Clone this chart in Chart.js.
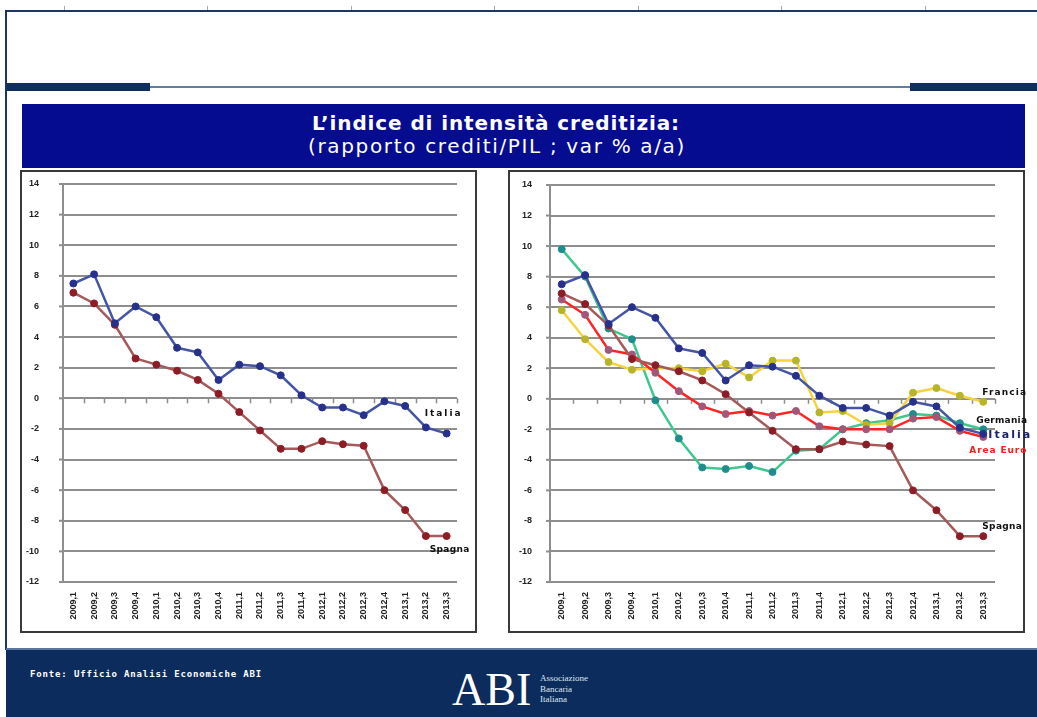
<!DOCTYPE html>
<html>
<head>
<meta charset="utf-8">
<script src="https://cdn.jsdelivr.net/npm/chart.js@4.4.1/dist/chart.umd.min.js"></script>
<style>
html,body{margin:0;padding:0;background:#fff;}
#slide{position:relative;width:1037px;height:717px;overflow:hidden;background:#fff;font-family:"DejaVu Sans",sans-serif;}
.abs{position:absolute;}
.fit{display:inline-block;white-space:nowrap;}
</style>
</head>
<body>
<div id="slide">
  <!-- slide frame -->
  <div class="abs" style="left:5px;top:10px;width:1032px;height:2px;background:#1d3563"></div>
  <div class="abs" style="left:5px;top:10px;width:2px;height:640px;background:#1d3563"></div>
  <div class="abs" style="left:64px;top:6px;width:1px;height:4px;background:#9aa6bb"></div>
  <div class="abs" style="left:207px;top:6px;width:1px;height:4px;background:#9aa6bb"></div>
  <div class="abs" style="left:351px;top:6px;width:1px;height:4px;background:#9aa6bb"></div>
  <div class="abs" style="left:494px;top:6px;width:1px;height:4px;background:#9aa6bb"></div>
  <div class="abs" style="left:638px;top:6px;width:1px;height:4px;background:#9aa6bb"></div>
  <div class="abs" style="left:781px;top:6px;width:1px;height:4px;background:#9aa6bb"></div>
  <div class="abs" style="left:925px;top:6px;width:1px;height:4px;background:#9aa6bb"></div>

  <!-- header rule -->
  <div class="abs" style="left:7px;top:83px;width:143px;height:8px;background:#0f2f5f"></div>
  <div class="abs" style="left:150px;top:86px;width:760px;height:2px;background:#5f7ea6"></div>
  <div class="abs" style="left:910px;top:83px;width:127px;height:8px;background:#0f2f5f"></div>

  <!-- title band -->
  <div class="abs" style="left:22px;top:104px;width:1003px;height:64px;background:#050c8f"></div>
  <div class="abs" style="left:0;top:113px;width:992px;text-align:center;line-height:20px;color:#fff;">
    <span id="t1" class="fit" style="font-weight:bold;font-size:20px;">L’indice di intensità creditizia:</span>
  </div>
  <div class="abs" style="left:0;top:136px;width:994px;text-align:center;line-height:20px;color:#fff;">
    <span id="t2" class="fit" style="font-size:20px;">(rapporto crediti/PIL ; var % a/a)</span>
  </div>

  <!-- chart frames -->
  <div class="abs" style="left:20px;top:170px;width:453px;height:459px;border:2px solid #3a3a3a;"></div>
  <div class="abs" style="left:508px;top:170px;width:513px;height:459px;border:2px solid #3a3a3a;"></div>

  <canvas id="c1" class="abs" style="left:22px;top:172px;" width="455" height="461"></canvas>
  <canvas id="c2" class="abs" style="left:510px;top:172px;" width="522" height="461"></canvas>

  <!-- footer -->
  <div class="abs" style="left:6px;top:648px;width:1031px;height:69px;background:#0b2c5c;border-top:2px solid #5b77a0"></div>
  <div class="abs" style="left:30px;top:667px;color:#fff;line-height:10px;">
    <span id="src" class="fit" style="font-family:'DejaVu Sans Mono',monospace;font-weight:bold;font-size:9px;">Fonte: Ufficio Analisi Economiche ABI</span>
  </div>
  <div class="abs" style="left:452px;top:667px;color:#fff;font-family:'Liberation Serif',serif;font-size:46px;line-height:46px;">ABI</div>
  <div class="abs" style="left:540px;top:673px;color:#dfe6f0;font-family:'Liberation Serif',serif;font-size:9px;line-height:10.5px;">Associazione<br>Bancaria<br>Italiana</div>
</div>

<script>
// ---------- data ----------
const categories = ['2009,1','2009,2','2009,3','2009,4','2010,1','2010,2','2010,3','2010,4',
                    '2011,1','2011,2','2011,3','2011,4','2012,1','2012,2','2012,3','2012,4',
                    '2013,1','2013,2','2013,3'];
const italia   = [7.5, 8.1, 4.9, 6.0, 5.3, 3.3, 3.0, 1.2, 2.2, 2.1, 1.5, 0.2, -0.6, -0.6, -1.1, -0.2, -0.5, -1.9, -2.3];
const spagna   = [6.9, 6.2, 4.8, 2.6, 2.2, 1.8, 1.2, 0.3, -0.9, -2.1, -3.3, -3.3, -2.8, -3.0, -3.1, -6.0, -7.3, -9.0, -9.0];
const francia  = [5.8, 3.9, 2.4, 1.9, 2.0, 2.0, 1.8, 2.3, 1.4, 2.5, 2.5, -0.9, -0.8, -1.7, -1.6, 0.4, 0.7, 0.2, -0.2];
const germania = [9.8, 8.0, 4.6, 3.9, -0.1, -2.6, -4.5, -4.6, -4.4, -4.8, -3.4, -3.3, -2.0, -1.6, -1.4, -1.0, -1.1, -1.6, -2.0];
const areaEuro = [6.5, 5.5, 3.2, 2.9, 1.7, 0.5, -0.5, -1.0, -0.8, -1.1, -0.8, -1.8, -2.0, -2.0, -2.0, -1.3, -1.2, -2.1, -2.5];
const yMin = -12, yMax = 14, yStep = 2;

// ---------- text fitting ----------
function fitWidth(id, target){
  const el = document.getElementById(id);
  el.style.letterSpacing = '0px';
  const w = el.getBoundingClientRect().width;
  el.style.letterSpacing = ((target - w) / el.textContent.length) + 'px';
}
fitWidth('t1', 368);
fitWidth('t2', 378);
fitWidth('src', 232);

// ---------- plugins ----------
const axisTicks = {
  id: 'axisTicks',
  beforeDatasetsDraw(chart){
    const xs = chart.scales.x, ys = chart.scales.y, ctx = chart.ctx;
    const y0 = ys.getPixelForValue(0);
    const half = (xs.getPixelForValue(1) - xs.getPixelForValue(0)) / 2;
    const left = chart.chartArea.left;
    ctx.save();
    ctx.strokeStyle = '#8e8e8e';
    ctx.lineWidth = 1.5;
    for (let i = 0; i < categories.length; i++){
      const px = Math.round(xs.getPixelForValue(i) + half) + 0.5;
      ctx.beginPath(); ctx.moveTo(px, y0); ctx.lineTo(px, y0 + 5); ctx.stroke();
    }
    ctx.lineWidth = 2;
    ys.ticks.forEach(t => {
      const py = ys.getPixelForValue(t.value);
      ctx.beginPath(); ctx.moveTo(left - 4, py); ctx.lineTo(left, py); ctx.stroke();
    });
    ctx.restore();
  }
};
const endLabels = {
  id: 'endLabels',
  afterDatasetsDraw(chart){
    const ctx = chart.ctx;
    chart.data.datasets.forEach((ds, i) => {
      const lab = ds.endLabel; if (!lab) return;
      const meta = chart.getDatasetMeta(i);
      const pt = meta.data[meta.data.length - 1];
      ctx.save();
      ctx.font = lab.font || 'bold 9px "DejaVu Sans"';
      ctx.fillStyle = lab.color || '#111';
      ctx.textBaseline = 'middle';
      ctx.textAlign = 'left';
      if ('letterSpacing' in ctx){
        ctx.letterSpacing = '0px';
        const w0 = ctx.measureText(lab.text).width;
        ctx.letterSpacing = ((lab.w - w0) / lab.text.length) + 'px';
      }
      ctx.fillText(lab.text, pt.x + lab.dx, pt.y + lab.dy);
      ctx.restore();
    });
  }
};

function series(label, data, line, point, endLabel){
  return { label, data, borderColor: line, backgroundColor: point,
           pointBackgroundColor: point, pointBorderColor: point, endLabel };
}

function makeChart(id, datasets, g){
  return new Chart(document.getElementById(id), {
    type: 'line',
    data: { labels: categories, datasets },
    options: {
      responsive: false, animation: false, devicePixelRatio: 1,
      layout: { padding: { left: 0, top: g.top, right: g.right, bottom: 0 } },
      plugins: { legend: { display: false }, tooltip: { enabled: false } },
      elements: {
        line: { tension: 0, borderWidth: 2.5 },
        point: { radius: 3.5, borderWidth: 1 }
      },
      scales: {
        x: {
          type: 'category', offset: true,
          grid: { display: false, drawTicks: false },
          border: { display: false },
          ticks: { minRotation: 90, maxRotation: 90, autoSkip: false, padding: 10, color: '#222',
                   font: { family: '"Liberation Sans", Arial, sans-serif', size: 9, weight: 'bold' } },
          afterFit(s){ s.height = g.xh; }
        },
        y: {
          min: yMin, max: yMax,
          grid: { color: '#8e8e8e', lineWidth: 2, tickLength: g.tl, drawTicks: true, tickColor: 'rgba(0,0,0,0)' },
          border: { color: '#8e8e8e', width: 2 },
          ticks: { stepSize: yStep, padding: 0, color: '#222',
                   font: { family: '"Liberation Sans", Arial, sans-serif', size: 9, weight: 'bold' } },
          afterFit(s){ s.width = g.yw; }
        }
      }
    },
    plugins: [axisTicks, endLabels]
  });
}

const C = {
  italia:   ['#4455a3', '#27308a'],
  spagna:   ['#a45a5a', '#8c1d26'],
  francia:  ['#f6d33e', '#b7b42a'],
  germania: ['#3fc78f', '#1f8d8c'],
  euro:     ['#ff2424', '#a0577a']
};

makeChart('c1', [
  series('Italia', italia, C.italia[0], C.italia[1], { text: 'Italia', dx: -22, dy: -20, w: 38 }),
  series('Spagna', spagna, C.spagna[0], C.spagna[1], { text: 'Spagna', dx: -17, dy: 14, w: 40 })
], { top: 12, right: 20, xh: 51, yw: 41, tl: 24 });

makeChart('c2', [
  series('Italia', italia, C.italia[0], C.italia[1],
         { text: 'Italia', dx: 5, dy: 1, w: 44, color: '#1b2466', font: 'bold 11px "DejaVu Sans"' }),
  series('Spagna', spagna, C.spagna[0], C.spagna[1], { text: 'Spagna', dx: -1, dy: -10, w: 40 }),
  series('Area Euro', areaEuro, C.euro[0], C.euro[1], { text: 'Area Euro', dx: -14, dy: 14, w: 58, color: '#ff1a1a' }),
  series('Francia', francia, C.francia[0], C.francia[1], { text: 'Francia', dx: -1, dy: -9, w: 45 }),
  series('Germania', germania, C.germania[0], C.germania[1], { text: 'Germania', dx: -7, dy: -9, w: 51 })
], { top: 13, right: 37, xh: 51, yw: 40, tl: 18 });
</script>
</body>
</html>
